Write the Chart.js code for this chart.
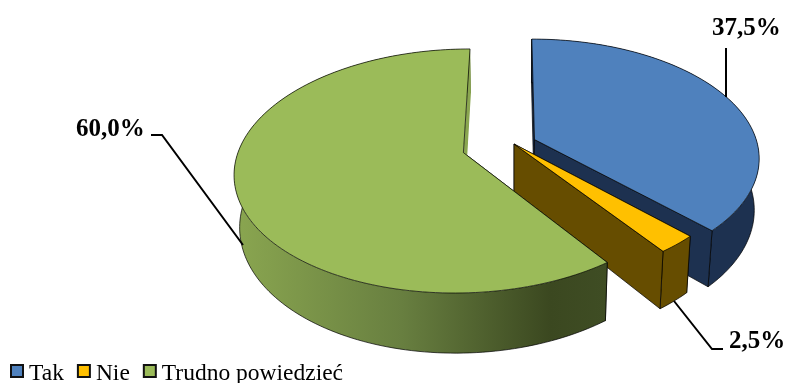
<!DOCTYPE html>
<html>
<head>
<meta charset="utf-8">
<style>
  html, body { margin: 0; background: #fff; overflow: hidden; }
  #wrap { position: relative; width: 786px; height: 383px; }
</style>
<script src="https://cdn.jsdelivr.net/npm/chart.js@4"></script>
</head>
<body>
<div id="wrap"><canvas id="pie"></canvas></div>
<script>
const categories = ['Tak', 'Nie', 'Trudno powiedzieć'];
const shares = [37.5, 2.5, 60.0];
const explode = [10, 0, 23.6];

const faceColors = ['#4f81bd', '#ffc000', '#9bbb59'];
const wallColors = ['#1d3150', '#664d00', '#8aa650'];

// leader lines and text anchors for the value labels
const valueLabels = [
    { x: 712, y: 35, line: [[726, 48], [726, 97]] },
    { x: 729, y: 348, line: [[674, 301], [712, 349], [723, 349]] },
    { x: 76, y: 136, line: [[151, 135], [162, 135], [243, 245]] }
];

// perspective of the tilted disc, fitted to the reference
const view = { xv: 514, yv: 144, a: 223, b: 116.7, k: 0.149, depth: 50.5, shrink: 0.98 };
const edgeColor = 'rgba(0,0,0,0.7)';

function project(x, y, low) {
    const den = 1 - view.k * y;
    const sx = view.a * x / den;
    const sy = view.b * y / den;
    if (!low) return [view.xv + sx, view.yv + sy];
    return [view.xv + sx * view.shrink, view.yv + sy + view.depth / den];
}

function tracePath(ctx, pts, open) {
    ctx.beginPath();
    pts.forEach((p, i) => i ? ctx.lineTo(p[0], p[1]) : ctx.moveTo(p[0], p[1]));
    if (!open) ctx.closePath();
}

function fillShape(ctx, pts, fill) {
    tracePath(ctx, pts);
    ctx.fillStyle = fill;
    ctx.fill();
}

function strokeShape(ctx, pts, open) {
    tracePath(ctx, pts, open);
    ctx.strokeStyle = edgeColor;
    ctx.lineWidth = 1;
    ctx.stroke();
}

const pie3d = {
    id: 'pie3d',
    beforeDatasetsDraw(chart) {
        const ctx = chart.ctx;
        const arcs = chart.getDatasetMeta(0).data;
        // painter's order: back slice first, the big one last
        arcs.forEach((arc, i) => {
            const mid = (arc.startAngle + arc.endAngle) / 2;
            const off = arc.options.offset / 100;
            const cx = off * Math.cos(mid);
            const cy = off * Math.sin(mid);
            const rim = [];
            const steps = Math.ceil((arc.endAngle - arc.startAngle) * 40);
            for (let s = 0; s <= steps; s++) {
                const t = arc.startAngle + (arc.endAngle - arc.startAngle) * s / steps;
                rim.push([cx + Math.cos(t), cy + Math.sin(t)]);
            }
            const first = rim[0];
            const last = rim[rim.length - 1];
            const isBig = i === 2;
            let wall = wallColors[i];

            const startWall = [project(cx, cy), project(first[0], first[1]), project(first[0], first[1], true), project(cx, cy, true)];
            const endWall = [project(cx, cy), project(last[0], last[1]), project(last[0], last[1], true), project(cx, cy, true)];
            fillShape(ctx, startWall, wall);
            strokeShape(ctx, startWall);

            if (isBig) {
                wall = ctx.createLinearGradient(234, 0, 606, 0);
                wall.addColorStop(0, '#8aa650');
                wall.addColorStop(0.45, '#687f40');
                wall.addColorStop(0.85, '#3b4820');
                wall.addColorStop(1, '#3f4d24');
            }
            const upper = rim.map(p => project(p[0], p[1]));
            const lower = rim.map(p => project(p[0], p[1], true));
            fillShape(ctx, upper.concat(lower.slice().reverse()), wall);
            const outline = [upper[0]].concat(lower);
            if (isBig) outline.length -= 60; // back of the rim stays hidden
            else outline.push(upper[upper.length - 1]);
            strokeShape(ctx, outline, true);

            // the sliver at the top of the green slice has no dark edge
            fillShape(ctx, endWall, wallColors[i]);
            if (!isBig) strokeShape(ctx, endWall);

            const face = [project(cx, cy)].concat(upper);
            fillShape(ctx, face, faceColors[i]);
            strokeShape(ctx, face);
        });
        return false;
    }
};

const annotations = {
    id: 'annotations',
    afterDraw(chart) {
        const ctx = chart.ctx;
        ctx.save();
        ctx.textBaseline = 'alphabetic';
        ctx.textAlign = 'left';

        // value labels with leaders
        shares.forEach((v, i) => {
            const lab = valueLabels[i];
            tracePath(ctx, lab.line, true);
            ctx.strokeStyle = '#000';
            ctx.lineWidth = 2;
            ctx.stroke();
            ctx.fillStyle = '#000';
            ctx.font = 'bold 25px "Liberation Serif"';
            ctx.fillText(v.toFixed(1).replace('.', ',') + '%', lab.x, lab.y);
        });

        // legend along the bottom left
        let x = 11;
        ctx.font = '23.5px "Liberation Serif"';
        categories.forEach((name, i) => {
            ctx.fillStyle = faceColors[i];
            ctx.fillRect(x, 365, 12, 12);
            ctx.strokeStyle = '#111';
            ctx.lineWidth = 2;
            ctx.strokeRect(x, 365, 12, 12);
            ctx.fillStyle = '#000';
            ctx.fillText(name, x + 18, 380);
            x += 18 + ctx.measureText(name).width + 14;
        });
        ctx.restore();
    }
};

new Chart(document.getElementById('pie'), {
    type: 'pie',
    data: {
        labels: categories,
        datasets: [{
            data: shares,
            backgroundColor: faceColors,
            offset: explode
        }]
    },
    options: {
        responsive: true,
        maintainAspectRatio: false,
        animation: false,
        plugins: {
            legend: { display: false },
            tooltip: { enabled: false }
        }
    },
    plugins: [pie3d, annotations]
});
</script>
</body>
</html>
